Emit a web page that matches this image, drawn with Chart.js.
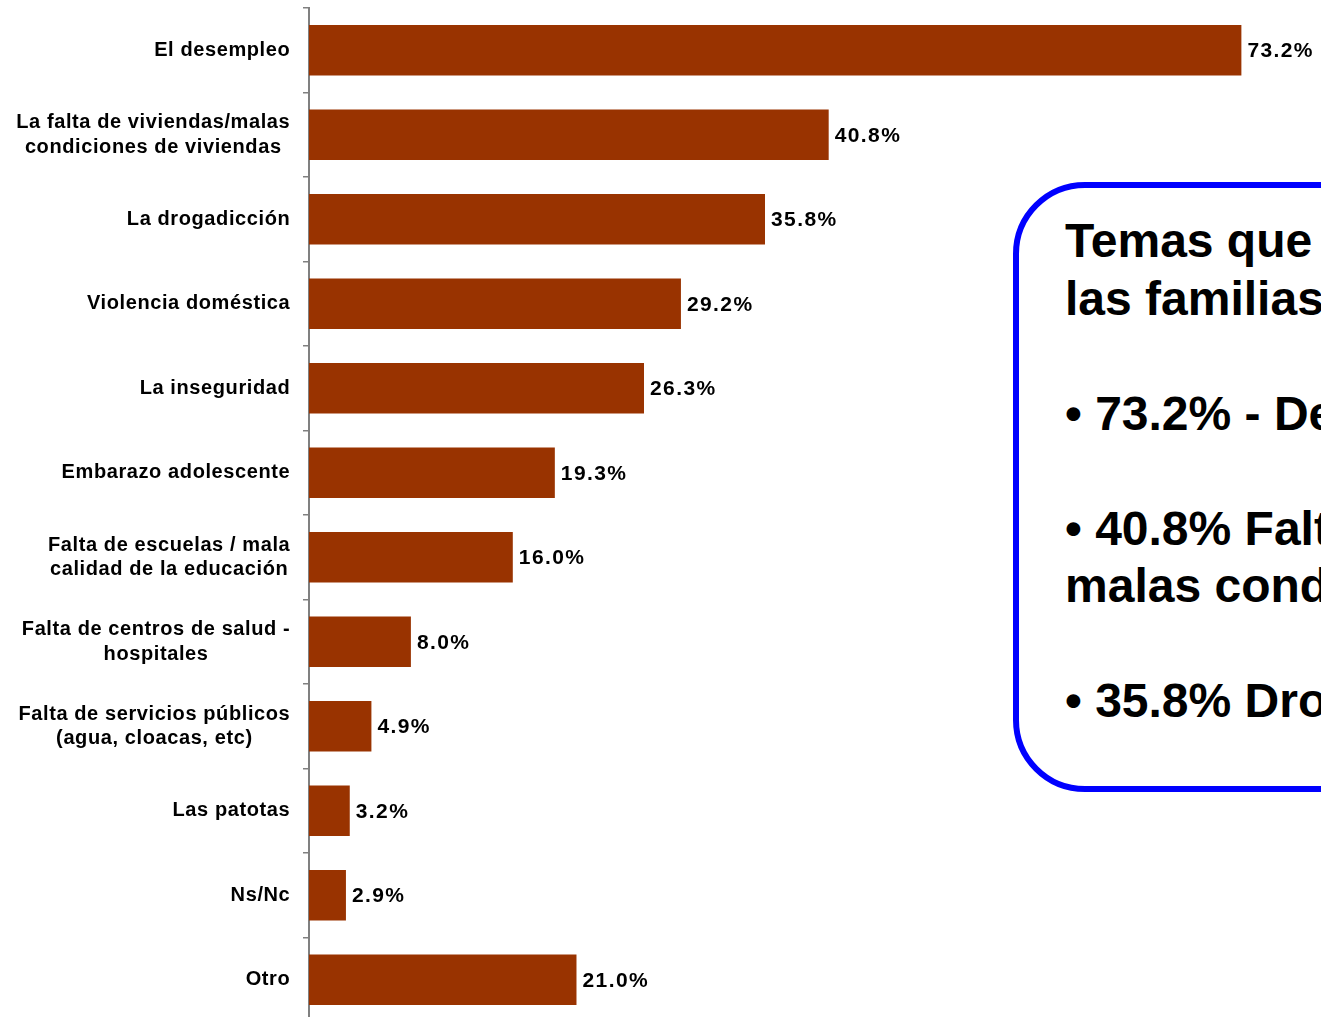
<!DOCTYPE html>
<html>
<head>
<meta charset="utf-8">
<script src="https://cdn.jsdelivr.net/npm/chart.js@4"></script>
<style>
  html, body { margin: 0; padding: 0; background: #fff; overflow: hidden; }
  #frame { position: relative; width: 1321px; height: 1017px; overflow: hidden; }
  #wrap { position: absolute; left: 0; top: 0; width: 1328px; height: 1022px; }
  #note {
    position: absolute; left: 1013px; top: 182px; width: 700px; height: 610px;
    border: 6px solid #0000ff; border-radius: 72px; background: #fff;
    font: bold 48px "Liberation Sans", Arial, sans-serif; line-height: 57.5px;
    color: #000; white-space: nowrap; padding: 24px 0 0 46px; box-sizing: border-box;
  }
</style>
</head>
<body>
<div id="frame">
  <div id="wrap"><canvas id="myChart"></canvas></div>
  <div id="note">Temas que preocupan a<br>las familias<br><br>• 73.2% - Desempleo<br><br>• 40.8% Falta de viviendas /<br>malas condiciones<br><br>• 35.8% Drogadicción</div>
</div>
<script>
// datos
const categories = [
    'El desempleo',
    ['La falta de viviendas/malas', 'condiciones de viviendas'],
    'La drogadicción',
    'Violencia doméstica',
    'La inseguridad',
    'Embarazo adolescente',
    ['Falta de escuelas / mala', 'calidad de la educación'],
    ['Falta de centros de salud -', 'hospitales'],
    ['Falta de servicios públicos', '(agua, cloacas, etc)'],
    'Las patotas',
    'Ns/Nc',
    'Otro'
];
const values = [73.2, 40.8, 35.8, 29.2, 26.3, 19.3, 16.0, 8.0, 4.9, 3.2, 2.9, 21.0];
const axisMin = 0;
const axisMax = 80;

// etiquetas de categorias, bloque alineado a la derecha y lineas centradas
const catLabels = {
    id: 'catLabels',
    afterDraw(chart) {
        const ctx = chart.ctx;
        const yScale = chart.scales.y;
        const right = 290;
        const lineH = 24.5;
        ctx.save();
        ctx.font = 'bold 20px "Liberation Sans", Arial, sans-serif';
        ctx.letterSpacing = '0.6px';
        ctx.fillStyle = '#000';
        ctx.textAlign = 'center';
        ctx.textBaseline = 'middle';
        categories.forEach(function (lab, i) {
            const lines = [].concat(lab);
            const w = Math.max.apply(null, lines.map(l => ctx.measureText(l).width));
            const cx = right - w / 2 + 0.3;
            const yc = yScale.getPixelForTick(i);
            lines.forEach(function (l, j) {
                ctx.fillText(l, cx, yc + (j - (lines.length - 1) / 2) * lineH);
            });
        });
        ctx.restore();
    }
};

// valores al final de cada barra
const valueLabels = {
    id: 'valueLabels',
    afterDatasetsDraw(chart) {
        const ctx = chart.ctx;
        const meta = chart.getDatasetMeta(0);
        ctx.save();
        ctx.font = 'bold 21px "Liberation Sans", Arial, sans-serif';
        ctx.letterSpacing = '1.4px';
        ctx.fillStyle = '#000';
        ctx.textAlign = 'left';
        ctx.textBaseline = 'middle';
        meta.data.forEach(function (bar, i) {
            ctx.fillText(values[i].toFixed(1) + '%', bar.x + 6, bar.y + 1);
        });
        ctx.restore();
    }
};

var ctx = document.getElementById('myChart');
var myChart = new Chart(ctx, {
    type: 'bar',
    data: {
        labels: categories,
        datasets: [{
            data: values,
            backgroundColor: '#993300',
            borderWidth: 0,
            barPercentage: 0.6,
            categoryPercentage: 1.0
        }]
    },
    options: {
        indexAxis: 'y',
        responsive: true,
        maintainAspectRatio: false,
        animation: false,
        layout: { padding: { top: 8, left: 0, right: 0, bottom: 0 } },
        plugins: {
            legend: { display: false },
            tooltip: { enabled: false }
        },
        scales: {
            x: {
                display: false,
                min: axisMin,
                max: axisMax
            },
            y: {
                afterFit: function (scale) { scale.width = 309; },
                ticks: { display: false },
                grid: {
                    offset: true,
                    drawOnChartArea: false,
                    drawTicks: true,
                    tickLength: 6,
                    color: '#808080',
                    lineWidth: 1.5
                },
                border: { display: true, color: '#808080', width: 2 }
            }
        }
    },
    plugins: [catLabels, valueLabels]
});
</script>
</body>
</html>
